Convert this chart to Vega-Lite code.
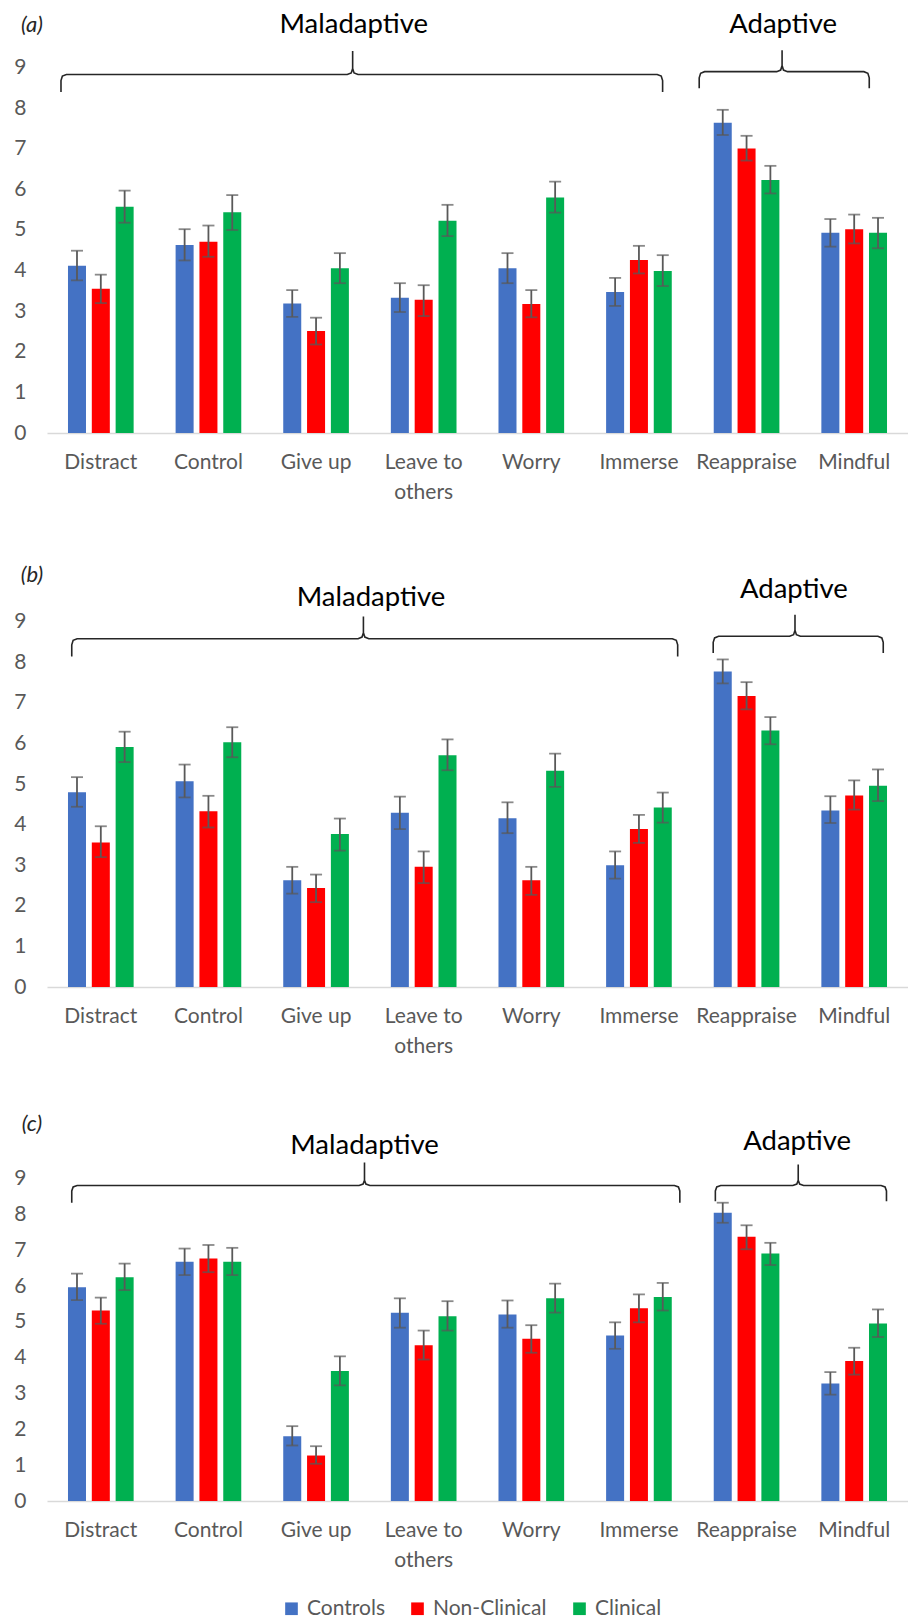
{
"$schema":"https://vega.github.io/schema/vega-lite/v6.json",
"padding":{"left":13,"top":0,"right":0,"bottom":0},
"bounds":"flush",
"spacing":128,
"config":{"font":"Lato","view":{"stroke":null},
 "axisX":{"labelFontSize":21,"labelColor":"#595959","ticks":false,"domainColor":"#D9D9D9","domainWidth":1.5,"labelPadding":18,"labelLineHeight":30,"grid":false,"labelAngle":0},
 "axisY":{"labelFontSize":21,"labelColor":"#595959","ticks":false,"domain":false,"grid":false,"labelPadding":21}},
"resolve":{"legend":{"color":"independent"}},
"datasets":{
"bars":[
{"panel":"a","strategy":"Distract","group":"Controls","value":4.12,"lo":3.76,"hi":4.49},
{"panel":"a","strategy":"Distract","group":"Non-Clinical","value":3.55,"lo":3.20,"hi":3.90},
{"panel":"a","strategy":"Distract","group":"Clinical","value":5.57,"lo":5.18,"hi":5.97},
{"panel":"a","strategy":"Control","group":"Controls","value":4.63,"lo":4.25,"hi":5.02},
{"panel":"a","strategy":"Control","group":"Non-Clinical","value":4.71,"lo":4.34,"hi":5.11},
{"panel":"a","strategy":"Control","group":"Clinical","value":5.44,"lo":5.00,"hi":5.86},
{"panel":"a","strategy":"Give up","group":"Controls","value":3.19,"lo":2.86,"hi":3.52},
{"panel":"a","strategy":"Give up","group":"Non-Clinical","value":2.51,"lo":2.18,"hi":2.84},
{"panel":"a","strategy":"Give up","group":"Clinical","value":4.06,"lo":3.69,"hi":4.43},
{"panel":"a","strategy":"Leave to others","group":"Controls","value":3.33,"lo":2.98,"hi":3.69},
{"panel":"a","strategy":"Leave to others","group":"Non-Clinical","value":3.28,"lo":2.88,"hi":3.64},
{"panel":"a","strategy":"Leave to others","group":"Clinical","value":5.23,"lo":4.85,"hi":5.62},
{"panel":"a","strategy":"Worry","group":"Controls","value":4.06,"lo":3.69,"hi":4.43},
{"panel":"a","strategy":"Worry","group":"Non-Clinical","value":3.18,"lo":2.85,"hi":3.52},
{"panel":"a","strategy":"Worry","group":"Clinical","value":5.80,"lo":5.43,"hi":6.19},
{"panel":"a","strategy":"Immerse","group":"Controls","value":3.47,"lo":3.13,"hi":3.82},
{"panel":"a","strategy":"Immerse","group":"Non-Clinical","value":4.26,"lo":3.93,"hi":4.61},
{"panel":"a","strategy":"Immerse","group":"Clinical","value":3.99,"lo":3.62,"hi":4.38},
{"panel":"a","strategy":"Reappraise","group":"Controls","value":7.64,"lo":7.34,"hi":7.96},
{"panel":"a","strategy":"Reappraise","group":"Non-Clinical","value":7.01,"lo":6.71,"hi":7.32},
{"panel":"a","strategy":"Reappraise","group":"Clinical","value":6.23,"lo":5.90,"hi":6.58},
{"panel":"a","strategy":"Mindful","group":"Controls","value":4.93,"lo":4.59,"hi":5.27},
{"panel":"a","strategy":"Mindful","group":"Non-Clinical","value":5.02,"lo":4.67,"hi":5.38},
{"panel":"a","strategy":"Mindful","group":"Clinical","value":4.93,"lo":4.55,"hi":5.30},
{"panel":"b","strategy":"Distract","group":"Controls","value":4.80,"lo":4.44,"hi":5.17},
{"panel":"b","strategy":"Distract","group":"Non-Clinical","value":3.56,"lo":3.20,"hi":3.96},
{"panel":"b","strategy":"Distract","group":"Clinical","value":5.91,"lo":5.54,"hi":6.29},
{"panel":"b","strategy":"Control","group":"Controls","value":5.07,"lo":4.67,"hi":5.48},
{"panel":"b","strategy":"Control","group":"Non-Clinical","value":4.33,"lo":3.93,"hi":4.71},
{"panel":"b","strategy":"Control","group":"Clinical","value":6.03,"lo":5.66,"hi":6.40},
{"panel":"b","strategy":"Give up","group":"Controls","value":2.63,"lo":2.30,"hi":2.96},
{"panel":"b","strategy":"Give up","group":"Non-Clinical","value":2.44,"lo":2.09,"hi":2.77},
{"panel":"b","strategy":"Give up","group":"Clinical","value":3.77,"lo":3.36,"hi":4.15},
{"panel":"b","strategy":"Leave to others","group":"Controls","value":4.29,"lo":3.89,"hi":4.69},
{"panel":"b","strategy":"Leave to others","group":"Non-Clinical","value":2.96,"lo":2.56,"hi":3.34},
{"panel":"b","strategy":"Leave to others","group":"Clinical","value":5.71,"lo":5.34,"hi":6.10},
{"panel":"b","strategy":"Worry","group":"Controls","value":4.16,"lo":3.79,"hi":4.55},
{"panel":"b","strategy":"Worry","group":"Non-Clinical","value":2.63,"lo":2.27,"hi":2.96},
{"panel":"b","strategy":"Worry","group":"Clinical","value":5.33,"lo":4.93,"hi":5.75},
{"panel":"b","strategy":"Immerse","group":"Controls","value":3.00,"lo":2.67,"hi":3.34},
{"panel":"b","strategy":"Immerse","group":"Non-Clinical","value":3.89,"lo":3.55,"hi":4.24},
{"panel":"b","strategy":"Immerse","group":"Clinical","value":4.42,"lo":4.05,"hi":4.79},
{"panel":"b","strategy":"Reappraise","group":"Controls","value":7.77,"lo":7.48,"hi":8.07},
{"panel":"b","strategy":"Reappraise","group":"Non-Clinical","value":7.17,"lo":6.84,"hi":7.51},
{"panel":"b","strategy":"Reappraise","group":"Clinical","value":6.32,"lo":5.98,"hi":6.65},
{"panel":"b","strategy":"Mindful","group":"Controls","value":4.35,"lo":4.04,"hi":4.70},
{"panel":"b","strategy":"Mindful","group":"Non-Clinical","value":4.72,"lo":4.37,"hi":5.09},
{"panel":"b","strategy":"Mindful","group":"Clinical","value":4.96,"lo":4.58,"hi":5.36},
{"panel":"c","strategy":"Distract","group":"Controls","value":5.97,"lo":5.61,"hi":6.35},
{"panel":"c","strategy":"Distract","group":"Non-Clinical","value":5.32,"lo":4.95,"hi":5.68},
{"panel":"c","strategy":"Distract","group":"Clinical","value":6.25,"lo":5.89,"hi":6.63},
{"panel":"c","strategy":"Control","group":"Controls","value":6.68,"lo":6.31,"hi":7.05},
{"panel":"c","strategy":"Control","group":"Non-Clinical","value":6.77,"lo":6.39,"hi":7.15},
{"panel":"c","strategy":"Control","group":"Clinical","value":6.68,"lo":6.31,"hi":7.07},
{"panel":"c","strategy":"Give up","group":"Controls","value":1.81,"lo":1.55,"hi":2.09},
{"panel":"c","strategy":"Give up","group":"Non-Clinical","value":1.27,"lo":1.04,"hi":1.53},
{"panel":"c","strategy":"Give up","group":"Clinical","value":3.63,"lo":3.23,"hi":4.04},
{"panel":"c","strategy":"Leave to others","group":"Controls","value":5.26,"lo":4.84,"hi":5.66},
{"panel":"c","strategy":"Leave to others","group":"Non-Clinical","value":4.35,"lo":3.95,"hi":4.76},
{"panel":"c","strategy":"Leave to others","group":"Clinical","value":5.16,"lo":4.76,"hi":5.58},
{"panel":"c","strategy":"Worry","group":"Controls","value":5.21,"lo":4.84,"hi":5.60},
{"panel":"c","strategy":"Worry","group":"Non-Clinical","value":4.53,"lo":4.14,"hi":4.91},
{"panel":"c","strategy":"Worry","group":"Clinical","value":5.66,"lo":5.26,"hi":6.07},
{"panel":"c","strategy":"Immerse","group":"Controls","value":4.62,"lo":4.25,"hi":4.99},
{"panel":"c","strategy":"Immerse","group":"Non-Clinical","value":5.38,"lo":4.99,"hi":5.77},
{"panel":"c","strategy":"Immerse","group":"Clinical","value":5.70,"lo":5.32,"hi":6.09},
{"panel":"c","strategy":"Reappraise","group":"Controls","value":8.05,"lo":7.77,"hi":8.33},
{"panel":"c","strategy":"Reappraise","group":"Non-Clinical","value":7.38,"lo":7.03,"hi":7.70},
{"panel":"c","strategy":"Reappraise","group":"Clinical","value":6.91,"lo":6.59,"hi":7.21},
{"panel":"c","strategy":"Mindful","group":"Controls","value":3.28,"lo":2.97,"hi":3.60},
{"panel":"c","strategy":"Mindful","group":"Non-Clinical","value":3.91,"lo":3.53,"hi":4.28},
{"panel":"c","strategy":"Mindful","group":"Clinical","value":4.96,"lo":4.58,"hi":5.35}
],
"braces":[
{"panel":"a","brace":"Mal","ord":1,"bx":0.13,"by":8.40},{"panel":"a","brace":"Mal","ord":2,"bx":0.13,"by":8.68},{"panel":"a","brace":"Mal","ord":3,"bx":0.143,"by":8.79},{"panel":"a","brace":"Mal","ord":4,"bx":0.18,"by":8.83},{"panel":"a","brace":"Mal","ord":5,"bx":2.79,"by":8.83},{"panel":"a","brace":"Mal","ord":6,"bx":2.827,"by":8.87},{"panel":"a","brace":"Mal","ord":7,"bx":2.84,"by":8.98},{"panel":"a","brace":"Mal","ord":8,"bx":2.84,"by":9.41},{"panel":"a","brace":"Mal","ord":9,"bx":2.84,"by":8.98},{"panel":"a","brace":"Mal","ord":10,"bx":2.853,"by":8.87},{"panel":"a","brace":"Mal","ord":11,"bx":2.89,"by":8.83},{"panel":"a","brace":"Mal","ord":12,"bx":5.67,"by":8.83},{"panel":"a","brace":"Mal","ord":13,"bx":5.707,"by":8.79},{"panel":"a","brace":"Mal","ord":14,"bx":5.72,"by":8.68},{"panel":"a","brace":"Mal","ord":15,"bx":5.72,"by":8.40},
{"panel":"a","brace":"Adap","ord":1,"bx":6.06,"by":8.49},{"panel":"a","brace":"Adap","ord":2,"bx":6.06,"by":8.75},{"panel":"a","brace":"Adap","ord":3,"bx":6.073,"by":8.86},{"panel":"a","brace":"Adap","ord":4,"bx":6.11,"by":8.90},{"panel":"a","brace":"Adap","ord":5,"bx":6.78,"by":8.90},{"panel":"a","brace":"Adap","ord":6,"bx":6.817,"by":8.94},{"panel":"a","brace":"Adap","ord":7,"bx":6.83,"by":9.05},{"panel":"a","brace":"Adap","ord":8,"bx":6.83,"by":9.43},{"panel":"a","brace":"Adap","ord":9,"bx":6.83,"by":9.05},{"panel":"a","brace":"Adap","ord":10,"bx":6.843,"by":8.94},{"panel":"a","brace":"Adap","ord":11,"bx":6.88,"by":8.90},{"panel":"a","brace":"Adap","ord":12,"bx":7.59,"by":8.90},{"panel":"a","brace":"Adap","ord":13,"bx":7.627,"by":8.86},{"panel":"a","brace":"Adap","ord":14,"bx":7.64,"by":8.75},{"panel":"a","brace":"Adap","ord":15,"bx":7.64,"by":8.49},
{"panel":"b","brace":"Mal","ord":1,"bx":0.23,"by":8.14},{"panel":"b","brace":"Mal","ord":2,"bx":0.23,"by":8.43},{"panel":"b","brace":"Mal","ord":3,"bx":0.243,"by":8.54},{"panel":"b","brace":"Mal","ord":4,"bx":0.28,"by":8.58},{"panel":"b","brace":"Mal","ord":5,"bx":2.89,"by":8.58},{"panel":"b","brace":"Mal","ord":6,"bx":2.927,"by":8.62},{"panel":"b","brace":"Mal","ord":7,"bx":2.94,"by":8.73},{"panel":"b","brace":"Mal","ord":8,"bx":2.94,"by":9.13},{"panel":"b","brace":"Mal","ord":9,"bx":2.94,"by":8.73},{"panel":"b","brace":"Mal","ord":10,"bx":2.953,"by":8.62},{"panel":"b","brace":"Mal","ord":11,"bx":2.99,"by":8.58},{"panel":"b","brace":"Mal","ord":12,"bx":5.81,"by":8.58},{"panel":"b","brace":"Mal","ord":13,"bx":5.847,"by":8.54},{"panel":"b","brace":"Mal","ord":14,"bx":5.86,"by":8.43},{"panel":"b","brace":"Mal","ord":15,"bx":5.86,"by":8.14},
{"panel":"b","brace":"Adap","ord":1,"bx":6.19,"by":8.23},{"panel":"b","brace":"Adap","ord":2,"bx":6.19,"by":8.49},{"panel":"b","brace":"Adap","ord":3,"bx":6.203,"by":8.60},{"panel":"b","brace":"Adap","ord":4,"bx":6.24,"by":8.64},{"panel":"b","brace":"Adap","ord":5,"bx":6.90,"by":8.64},{"panel":"b","brace":"Adap","ord":6,"bx":6.937,"by":8.68},{"panel":"b","brace":"Adap","ord":7,"bx":6.95,"by":8.79},{"panel":"b","brace":"Adap","ord":8,"bx":6.95,"by":9.17},{"panel":"b","brace":"Adap","ord":9,"bx":6.95,"by":8.79},{"panel":"b","brace":"Adap","ord":10,"bx":6.963,"by":8.68},{"panel":"b","brace":"Adap","ord":11,"bx":7.00,"by":8.64},{"panel":"b","brace":"Adap","ord":12,"bx":7.72,"by":8.64},{"panel":"b","brace":"Adap","ord":13,"bx":7.757,"by":8.60},{"panel":"b","brace":"Adap","ord":14,"bx":7.77,"by":8.49},{"panel":"b","brace":"Adap","ord":15,"bx":7.77,"by":8.23},
{"panel":"c","brace":"Mal","ord":1,"bx":0.23,"by":8.33},{"panel":"c","brace":"Mal","ord":2,"bx":0.23,"by":8.66},{"panel":"c","brace":"Mal","ord":3,"bx":0.243,"by":8.77},{"panel":"c","brace":"Mal","ord":4,"bx":0.28,"by":8.81},{"panel":"c","brace":"Mal","ord":5,"bx":2.90,"by":8.81},{"panel":"c","brace":"Mal","ord":6,"bx":2.937,"by":8.85},{"panel":"c","brace":"Mal","ord":7,"bx":2.95,"by":8.96},{"panel":"c","brace":"Mal","ord":8,"bx":2.95,"by":9.45},{"panel":"c","brace":"Mal","ord":9,"bx":2.95,"by":8.96},{"panel":"c","brace":"Mal","ord":10,"bx":2.963,"by":8.85},{"panel":"c","brace":"Mal","ord":11,"bx":3.00,"by":8.81},{"panel":"c","brace":"Mal","ord":12,"bx":5.83,"by":8.81},{"panel":"c","brace":"Mal","ord":13,"bx":5.867,"by":8.77},{"panel":"c","brace":"Mal","ord":14,"bx":5.88,"by":8.66},{"panel":"c","brace":"Mal","ord":15,"bx":5.88,"by":8.33},
{"panel":"c","brace":"Adap","ord":1,"bx":6.21,"by":8.37},{"panel":"c","brace":"Adap","ord":2,"bx":6.21,"by":8.66},{"panel":"c","brace":"Adap","ord":3,"bx":6.223,"by":8.77},{"panel":"c","brace":"Adap","ord":4,"bx":6.26,"by":8.81},{"panel":"c","brace":"Adap","ord":5,"bx":6.93,"by":8.81},{"panel":"c","brace":"Adap","ord":6,"bx":6.967,"by":8.85},{"panel":"c","brace":"Adap","ord":7,"bx":6.98,"by":8.96},{"panel":"c","brace":"Adap","ord":8,"bx":6.98,"by":9.40},{"panel":"c","brace":"Adap","ord":9,"bx":6.98,"by":8.96},{"panel":"c","brace":"Adap","ord":10,"bx":6.993,"by":8.85},{"panel":"c","brace":"Adap","ord":11,"bx":7.03,"by":8.81},{"panel":"c","brace":"Adap","ord":12,"bx":7.75,"by":8.81},{"panel":"c","brace":"Adap","ord":13,"bx":7.787,"by":8.77},{"panel":"c","brace":"Adap","ord":14,"bx":7.80,"by":8.66},{"panel":"c","brace":"Adap","ord":15,"bx":7.80,"by":8.37}
],
"labels":[
{"panel":"a","kind":"group","text":"Maladaptive","tx":2.85,"ty":10.05},
{"panel":"a","kind":"group","text":"Adaptive","tx":6.84,"ty":10.05},
{"panel":"a","kind":"letter","text":"(a)","tx":-0.14,"ty":10.05},
{"panel":"b","kind":"group","text":"Maladaptive","tx":3.01,"ty":9.59},
{"panel":"b","kind":"group","text":"Adaptive","tx":6.94,"ty":9.79},
{"panel":"b","kind":"letter","text":"(b)","tx":-0.14,"ty":10.16},
{"panel":"c","kind":"group","text":"Maladaptive","tx":2.95,"ty":9.91},
{"panel":"c","kind":"group","text":"Adaptive","tx":6.97,"ty":10.03},
{"panel":"c","kind":"letter","text":"(c)","tx":-0.14,"ty":10.52}
]
},
"vconcat":[
{
"width":861,"height":433,
"resolve":{"scale":{"x":"independent"}},
"layer":[
 {"data":{"name":"bars"},"transform":[{"filter":"datum.panel==='a'"}],
  "encoding":{
   "x":{"field":"strategy","type":"nominal","sort":["Distract","Control","Give up","Leave to others","Worry","Immerse","Reappraise","Mindful"],"scale":{"paddingInner":0.39,"paddingOuter":0.195},"axis":{"title":null,"labelExpr":"datum.value === 'Leave to others' ? ['Leave to', 'others'] : datum.label"}},
   "xOffset":{"field":"group","type":"nominal","sort":["Controls","Non-Clinical","Clinical"],"scale":{"paddingInner":0.244,"paddingOuter":0}}
  },
  "layer":[
   {"mark":{"type":"bar"},"encoding":{"y":{"field":"value","type":"quantitative","scale":{"domain":[0,10.665],"nice":false},"axis":{"title":null,"values":[0,1,2,3,4,5,6,7,8,9]}},
     "color":{"field":"group","type":"nominal","scale":{"domain":["Controls","Non-Clinical","Clinical"],"range":["#4472C4","#FF0000","#00B050"]},"legend":null}}},
   {"mark":{"type":"rule","color":"#595959","strokeWidth":1.8},"encoding":{"y":{"field":"lo","type":"quantitative","scale":{"domain":[0,10.665],"nice":false},"axis":{"title":null,"values":[0,1,2,3,4,5,6,7,8,9]}},"y2":{"field":"hi"}}},
   {"mark":{"type":"tick","color":"#595959","size":12,"thickness":1.8},"encoding":{"y":{"field":"lo","type":"quantitative","scale":{"domain":[0,10.665],"nice":false},"axis":{"title":null,"values":[0,1,2,3,4,5,6,7,8,9]}}}},
   {"mark":{"type":"tick","color":"#595959","size":12,"thickness":1.8},"encoding":{"y":{"field":"hi","type":"quantitative","scale":{"domain":[0,10.665],"nice":false},"axis":{"title":null,"values":[0,1,2,3,4,5,6,7,8,9]}}}}
  ]},
 {"data":{"name":"braces"},"transform":[{"filter":"datum.panel==='a'"}],"mark":{"type":"line","color":"#262626","strokeWidth":1.6},
  "encoding":{"x":{"field":"bx","type":"quantitative","scale":{"domain":[0,8],"nice":false,"zero":false},"axis":null},"y":{"field":"by","type":"quantitative","scale":{"domain":[0,10.665],"nice":false},"axis":{"title":null,"values":[0,1,2,3,4,5,6,7,8,9]}},"detail":{"field":"brace"},"order":{"field":"ord","type":"quantitative"}}},
 {"data":{"name":"labels"},"transform":[{"filter":"datum.panel==='a' && datum.kind==='group'"}],"mark":{"type":"text","fontSize":27.5,"color":"#000000"},
  "encoding":{"x":{"field":"tx","type":"quantitative","scale":{"domain":[0,8],"nice":false,"zero":false},"axis":null},"y":{"field":"ty","type":"quantitative","scale":{"domain":[0,10.665],"nice":false},"axis":{"title":null,"values":[0,1,2,3,4,5,6,7,8,9]}},"text":{"field":"text"}}},
 {"data":{"name":"labels"},"transform":[{"filter":"datum.panel==='a' && datum.kind==='letter'"}],"mark":{"type":"text","fontSize":22,"color":"#262626","fontStyle":"italic"},
  "encoding":{"x":{"field":"tx","type":"quantitative","scale":{"domain":[0,8],"nice":false,"zero":false},"axis":null},"y":{"field":"ty","type":"quantitative","scale":{"domain":[0,10.665],"nice":false},"axis":{"title":null,"values":[0,1,2,3,4,5,6,7,8,9]}},"text":{"field":"text"}}}
]
},
{
"width":861,"height":426,
"resolve":{"scale":{"x":"independent"}},
"layer":[
 {"data":{"name":"bars"},"transform":[{"filter":"datum.panel==='b'"}],
  "encoding":{
   "x":{"field":"strategy","type":"nominal","sort":["Distract","Control","Give up","Leave to others","Worry","Immerse","Reappraise","Mindful"],"scale":{"paddingInner":0.39,"paddingOuter":0.195},"axis":{"title":null,"labelExpr":"datum.value === 'Leave to others' ? ['Leave to', 'others'] : datum.label"}},
   "xOffset":{"field":"group","type":"nominal","sort":["Controls","Non-Clinical","Clinical"],"scale":{"paddingInner":0.244,"paddingOuter":0}}
  },
  "layer":[
   {"mark":{"type":"bar"},"encoding":{"y":{"field":"value","type":"quantitative","scale":{"domain":[0,10.495],"nice":false},"axis":{"title":null,"values":[0,1,2,3,4,5,6,7,8,9]}},
     "color":{"field":"group","type":"nominal","scale":{"domain":["Controls","Non-Clinical","Clinical"],"range":["#4472C4","#FF0000","#00B050"]},"legend":null}}},
   {"mark":{"type":"rule","color":"#595959","strokeWidth":1.8},"encoding":{"y":{"field":"lo","type":"quantitative","scale":{"domain":[0,10.495],"nice":false},"axis":{"title":null,"values":[0,1,2,3,4,5,6,7,8,9]}},"y2":{"field":"hi"}}},
   {"mark":{"type":"tick","color":"#595959","size":12,"thickness":1.8},"encoding":{"y":{"field":"lo","type":"quantitative","scale":{"domain":[0,10.495],"nice":false},"axis":{"title":null,"values":[0,1,2,3,4,5,6,7,8,9]}}}},
   {"mark":{"type":"tick","color":"#595959","size":12,"thickness":1.8},"encoding":{"y":{"field":"hi","type":"quantitative","scale":{"domain":[0,10.495],"nice":false},"axis":{"title":null,"values":[0,1,2,3,4,5,6,7,8,9]}}}}
  ]},
 {"data":{"name":"braces"},"transform":[{"filter":"datum.panel==='b'"}],"mark":{"type":"line","color":"#262626","strokeWidth":1.6},
  "encoding":{"x":{"field":"bx","type":"quantitative","scale":{"domain":[0,8],"nice":false,"zero":false},"axis":null},"y":{"field":"by","type":"quantitative","scale":{"domain":[0,10.495],"nice":false},"axis":{"title":null,"values":[0,1,2,3,4,5,6,7,8,9]}},"detail":{"field":"brace"},"order":{"field":"ord","type":"quantitative"}}},
 {"data":{"name":"labels"},"transform":[{"filter":"datum.panel==='b' && datum.kind==='group'"}],"mark":{"type":"text","fontSize":27.5,"color":"#000000"},
  "encoding":{"x":{"field":"tx","type":"quantitative","scale":{"domain":[0,8],"nice":false,"zero":false},"axis":null},"y":{"field":"ty","type":"quantitative","scale":{"domain":[0,10.495],"nice":false},"axis":{"title":null,"values":[0,1,2,3,4,5,6,7,8,9]}},"text":{"field":"text"}}},
 {"data":{"name":"labels"},"transform":[{"filter":"datum.panel==='b' && datum.kind==='letter'"}],"mark":{"type":"text","fontSize":22,"color":"#262626","fontStyle":"italic"},
  "encoding":{"x":{"field":"tx","type":"quantitative","scale":{"domain":[0,8],"nice":false,"zero":false},"axis":null},"y":{"field":"ty","type":"quantitative","scale":{"domain":[0,10.495],"nice":false},"axis":{"title":null,"values":[0,1,2,3,4,5,6,7,8,9]}},"text":{"field":"text"}}}
]
},
{
"width":861,"height":386,
"resolve":{"scale":{"x":"independent"}},
"layer":[
 {"data":{"name":"bars"},"transform":[{"filter":"datum.panel==='c'"}],
  "encoding":{
   "x":{"field":"strategy","type":"nominal","sort":["Distract","Control","Give up","Leave to others","Worry","Immerse","Reappraise","Mindful"],"scale":{"paddingInner":0.39,"paddingOuter":0.195},"axis":{"title":null,"labelExpr":"datum.value === 'Leave to others' ? ['Leave to', 'others'] : datum.label"}},
   "xOffset":{"field":"group","type":"nominal","sort":["Controls","Non-Clinical","Clinical"],"scale":{"paddingInner":0.244,"paddingOuter":0}}
  },
  "layer":[
   {"mark":{"type":"bar"},"encoding":{"y":{"field":"value","type":"quantitative","scale":{"domain":[0,10.78],"nice":false},"axis":{"title":null,"values":[0,1,2,3,4,5,6,7,8,9]}},
     "color":{"field":"group","type":"nominal","scale":{"domain":["Controls","Non-Clinical","Clinical"],"range":["#4472C4","#FF0000","#00B050"]},
       "legend":{"title":null,"orient":"none","legendX":234,"legendY":483,"direction":"horizontal","symbolType":"square","symbolSize":160,"symbolStrokeWidth":0,"symbolOpacity":1,"labelFontSize":21,"labelColor":"#595959","labelOffset":5,"columnPadding":22,"padding":0}}}},
   {"mark":{"type":"rule","color":"#595959","strokeWidth":1.8},"encoding":{"y":{"field":"lo","type":"quantitative","scale":{"domain":[0,10.78],"nice":false},"axis":{"title":null,"values":[0,1,2,3,4,5,6,7,8,9]}},"y2":{"field":"hi"}}},
   {"mark":{"type":"tick","color":"#595959","size":12,"thickness":1.8},"encoding":{"y":{"field":"lo","type":"quantitative","scale":{"domain":[0,10.78],"nice":false},"axis":{"title":null,"values":[0,1,2,3,4,5,6,7,8,9]}}}},
   {"mark":{"type":"tick","color":"#595959","size":12,"thickness":1.8},"encoding":{"y":{"field":"hi","type":"quantitative","scale":{"domain":[0,10.78],"nice":false},"axis":{"title":null,"values":[0,1,2,3,4,5,6,7,8,9]}}}}
  ]},
 {"data":{"name":"braces"},"transform":[{"filter":"datum.panel==='c'"}],"mark":{"type":"line","color":"#262626","strokeWidth":1.6},
  "encoding":{"x":{"field":"bx","type":"quantitative","scale":{"domain":[0,8],"nice":false,"zero":false},"axis":null},"y":{"field":"by","type":"quantitative","scale":{"domain":[0,10.78],"nice":false},"axis":{"title":null,"values":[0,1,2,3,4,5,6,7,8,9]}},"detail":{"field":"brace"},"order":{"field":"ord","type":"quantitative"}}},
 {"data":{"name":"labels"},"transform":[{"filter":"datum.panel==='c' && datum.kind==='group'"}],"mark":{"type":"text","fontSize":27.5,"color":"#000000"},
  "encoding":{"x":{"field":"tx","type":"quantitative","scale":{"domain":[0,8],"nice":false,"zero":false},"axis":null},"y":{"field":"ty","type":"quantitative","scale":{"domain":[0,10.78],"nice":false},"axis":{"title":null,"values":[0,1,2,3,4,5,6,7,8,9]}},"text":{"field":"text"}}},
 {"data":{"name":"labels"},"transform":[{"filter":"datum.panel==='c' && datum.kind==='letter'"}],"mark":{"type":"text","fontSize":22,"color":"#262626","fontStyle":"italic"},
  "encoding":{"x":{"field":"tx","type":"quantitative","scale":{"domain":[0,8],"nice":false,"zero":false},"axis":null},"y":{"field":"ty","type":"quantitative","scale":{"domain":[0,10.78],"nice":false},"axis":{"title":null,"values":[0,1,2,3,4,5,6,7,8,9]}},"text":{"field":"text"}}}
]
}
]
}
